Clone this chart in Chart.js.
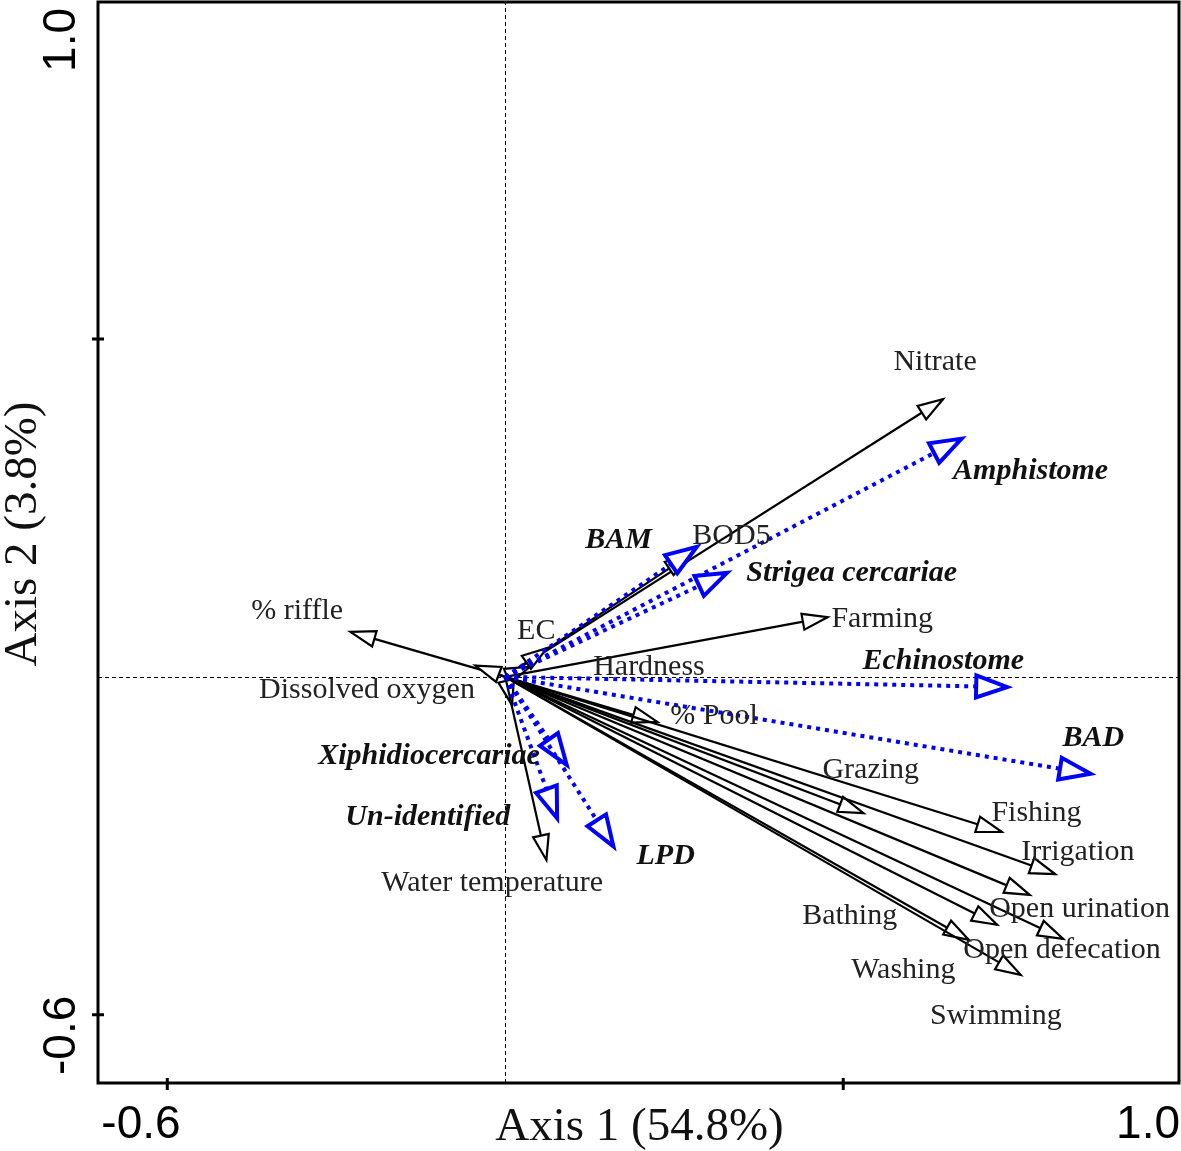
<!DOCTYPE html>
<html>
<head>
<meta charset="utf-8">
<script src="https://cdn.jsdelivr.net/npm/chart.js@4/dist/chart.umd.min.js"></script>
<style>
  html, body { margin: 0; padding: 0; background: #ffffff; }
  #wrap { width: 1181px; height: 1151px; position: relative; }
</style>
</head>
<body>
<div id="wrap"><canvas id="c"></canvas></div>
<script>
// ---- Environmental variables (black arrows) ----
const envNames = ['Nitrate','BOD5','EC','Hardness','','% riffle','Dissolved oxygen','Farming','% Pool','Grazing','Fishing','Irrigation','Open urination','Bathing','Open defecation','Washing','Swimming','Water temperature'];
const envX = [0.777, 0.328, 0.074, 0.044, 0.012, -0.275, -0.053, 0.572, 0.270, 0.636, 0.881, 0.976, 0.931, 0.873, 0.990, 0.823, 0.915, 0.073];
const envY = [0.493, 0.217, 0.051, 0.018, -0.050, 0.080, 0.020, 0.106, -0.080, -0.242, -0.275, -0.350, -0.387, -0.440, -0.465, -0.467, -0.529, -0.325];
const envLabelX = [0.689, 0.332, 0.021, 0.156, 0, -0.451, -0.437, 0.579, 0.293, 0.563, 0.863, 0.916, 0.859, 0.527, 0.813, 0.614, 0.754, -0.220];
const envLabelY = [0.563, 0.254, 0.085, 0.021, 0, 0.121, -0.020, 0.107, -0.066, -0.162, -0.238, -0.307, -0.408, -0.421, -0.481, -0.517, -0.598, -0.362];

// ---- Species (blue dotted arrows) ----
const spNames = ['Amphistome','BAM','Strigea cercariae','Echinostome','BAD','Xiphidiocercariae','Un-identified','LPD'];
const spX = [0.810, 0.340, 0.394, 0.891, 1.039, 0.109, 0.092, 0.192];
const spY = [0.423, 0.231, 0.185, -0.018, -0.172, -0.156, -0.251, -0.301];
const spLabelX = [0.795, 0.142, 0.428, 0.634, 0.989, -0.332, -0.284, 0.233];
const spLabelY = [0.369, 0.247, 0.188, 0.032, -0.105, -0.138, -0.245, -0.314];

// ---- Axes ----
const xTickValues = [-0.6, 0.6];
const yTickValues = [-0.6, 0.6];
const xEndLabels = ['-0.6', '1.0'];
const yEndLabels = ['-0.6', '1.0'];
const xTitle = 'Axis 1 (54.8%)';
const yTitle = 'Axis 2 (3.8%)';

const SERIF = '"Liberation Serif", "Times New Roman", serif';
const SANS = '"Liberation Sans", Arial, sans-serif';

function arrowHead(ctx, x0, y0, x1, y1, len, half, stroke, lw) {
  const a = Math.atan2(y1 - y0, x1 - x0);
  const bx = x1 - len * Math.cos(a), by = y1 - len * Math.sin(a);
  const px = -Math.sin(a) * half, py = Math.cos(a) * half;
  ctx.save();
  ctx.setLineDash([]);
  ctx.beginPath();
  ctx.moveTo(x1, y1);
  ctx.lineTo(bx + px, by + py);
  ctx.lineTo(bx - px, by - py);
  ctx.closePath();
  ctx.fillStyle = '#ffffff';
  ctx.fill();
  ctx.lineWidth = lw;
  ctx.lineJoin = 'miter';
  ctx.strokeStyle = stroke;
  ctx.stroke();
  ctx.restore();
}

const biplot = {
  id: 'biplot',
  afterDraw(chart) {
    const ctx = chart.ctx;
    const xs = chart.scales.x, ys = chart.scales.y;
    const a = chart.chartArea;
    const X = v => xs.getPixelForValue(v);
    const Y = v => ys.getPixelForValue(v);
    const ox = X(0), oy = Y(0);

    ctx.save();
    // zero lines
    ctx.strokeStyle = '#000';
    ctx.lineWidth = 1;
    ctx.setLineDash([4, 3]);
    ctx.beginPath();
    const zx = Math.round(ox) + 0.5, zy = Math.round(oy) + 0.5;
    ctx.moveTo(zx, a.top); ctx.lineTo(zx, a.bottom);
    ctx.moveTo(a.left, zy); ctx.lineTo(a.right, zy);
    ctx.stroke();
    ctx.setLineDash([]);

    // environmental arrows
    for (let i = 0; i < envX.length; i++) {
      const tx = X(envX[i]), ty = Y(envY[i]);
      ctx.strokeStyle = '#000';
      ctx.lineWidth = 2.2;
      ctx.beginPath();
      ctx.moveTo(ox, oy); ctx.lineTo(tx, ty);
      ctx.stroke();
      arrowHead(ctx, ox, oy, tx, ty, 25, 8, '#000', 2.2);
    }
    // species arrows
    for (let i = 0; i < spX.length; i++) {
      const tx = X(spX[i]), ty = Y(spY[i]);
      ctx.strokeStyle = '#0000ff';
      ctx.lineWidth = 4;
      ctx.lineCap = 'butt';
      ctx.setLineDash([4, 5]);
      ctx.beginPath();
      ctx.moveTo(ox, oy); ctx.lineTo(tx, ty);
      ctx.stroke();
      ctx.setLineDash([]);
      arrowHead(ctx, ox, oy, tx, ty, 31, 11, '#0000ff', 4);
    }

    // labels
    ctx.textBaseline = 'middle';
    ctx.textAlign = 'left';
    ctx.fillStyle = '#222';
    ctx.font = '30px ' + SERIF;
    for (let i = 0; i < envNames.length; i++) {
      if (!envNames[i]) continue;
      ctx.fillText(envNames[i], X(envLabelX[i]), Y(envLabelY[i]) + 2);
    }
    ctx.font = 'italic bold 30px ' + SERIF;
    ctx.fillStyle = '#111';
    for (let i = 0; i < spNames.length; i++) {
      ctx.fillText(spNames[i], X(spLabelX[i]), Y(spLabelY[i]) + 2);
    }

    // frame
    ctx.strokeStyle = '#000';
    ctx.lineWidth = 3;
    ctx.strokeRect(a.left, a.top + 1, a.right - a.left, a.bottom - a.top - 1);

    // ticks
    ctx.lineWidth = 3;
    ctx.beginPath();
    xTickValues.forEach(v => { const p = X(v); ctx.moveTo(p, a.bottom - 5); ctx.lineTo(p, a.bottom + 7); });
    yTickValues.forEach(v => { const p = Y(v); ctx.moveTo(a.left - 6, p); ctx.lineTo(a.left + 6, p); });
    ctx.stroke();

    // end labels
    ctx.fillStyle = '#000';
    ctx.font = '46px ' + SANS;
    ctx.textBaseline = 'alphabetic';
    ctx.textAlign = 'center';
    ctx.fillText(xEndLabels[0], a.left + 43, a.bottom + 55);
    ctx.textAlign = 'right';
    ctx.fillText(xEndLabels[1], a.right + 1, a.bottom + 55);

    ctx.save();
    ctx.translate(75, a.bottom - 8);
    ctx.rotate(-Math.PI / 2);
    ctx.textAlign = 'left';
    ctx.fillText(yEndLabels[0], 0, 0);
    ctx.restore();
    ctx.save();
    ctx.translate(75, a.top + 7);
    ctx.rotate(-Math.PI / 2);
    ctx.textAlign = 'right';
    ctx.fillText(yEndLabels[1], 0, 0);
    ctx.restore();

    // axis titles
    ctx.font = '47px ' + SERIF;
    ctx.fillStyle = '#111';
    ctx.textAlign = 'center';
    ctx.fillText(xTitle, (a.left + a.right) / 2 + 1, a.bottom + 57);
    ctx.save();
    ctx.translate(36, (a.top + a.bottom) / 2 - 8);
    ctx.rotate(-Math.PI / 2);
    ctx.fillText(yTitle, 0, 0);
    ctx.restore();

    ctx.restore();
  }
};

new Chart(document.getElementById('c'), {
  type: 'scatter',
  data: {
    datasets: [
      { label: 'Environment', data: envX.map((x, i) => ({ x, y: envY[i] })), pointRadius: 0 },
      { label: 'Species', data: spX.map((x, i) => ({ x, y: spY[i] })), pointRadius: 0 }
    ]
  },
  options: {
    responsive: true,
    maintainAspectRatio: false,
    animation: false,
    devicePixelRatio: 1,
    layout: { padding: { left: 98, right: 2, top: 1, bottom: 68 } },
    plugins: { legend: { display: false }, tooltip: { enabled: false } },
    scales: {
      x: { type: 'linear', min: -0.723, max: 1.196, display: false },
      y: { type: 'linear', min: -0.721, max: 1.2, display: false }
    }
  },
  plugins: [biplot]
});
</script>
</body>
</html>
